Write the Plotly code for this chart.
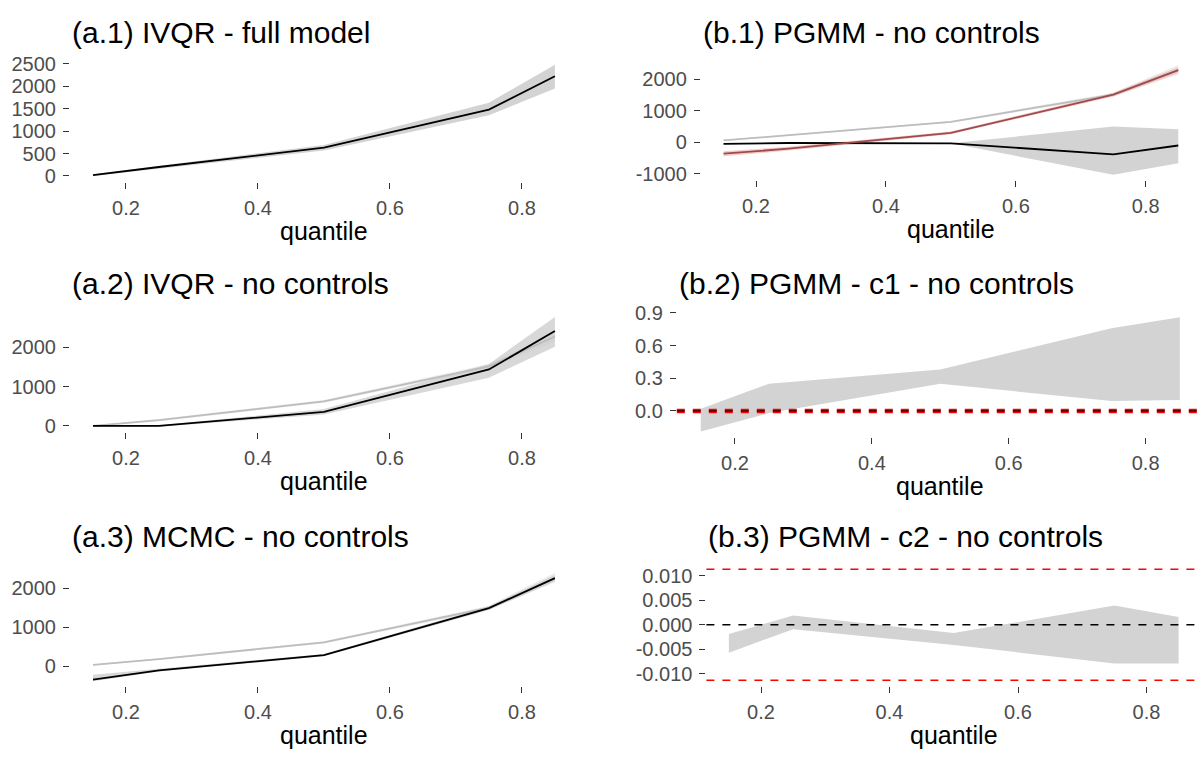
import plotly.graph_objects as go

W, H = 1204, 759

# ---------------- data ----------------
quantiles = [0.15, 0.25, 0.5, 0.75, 0.85]

# (a.1) IVQR - full model
a1_est = [20, 200, 630, 1480, 2220]
a1_lo = [0, 170, 570, 1350, 1950]
a1_hi = [40, 230, 690, 1630, 2480]

# (a.2) IVQR - no controls
a2_ref = [0, 150, 625, 1520, 2280]
a2_ref_lo = [-10, 120, 590, 1460, 2150]
a2_ref_hi = [10, 180, 660, 1580, 2400]
a2_est = [0, 0, 360, 1440, 2420]
a2_lo = [-20, -20, 290, 1230, 2020]
a2_hi = [20, 20, 430, 1580, 2780]

# (a.3) MCMC - no controls
a3_ref = [30, 180, 610, 1500, 2250]
a3_ref_lo = [10, 160, 580, 1450, 2150]
a3_ref_hi = [50, 200, 640, 1550, 2400]
a3_est = [-350, -110, 280, 1490, 2260]
a3_lo = [-390, -140, 250, 1440, 2180]
a3_hi = [-220, -70, 310, 1540, 2340]

# (b.1) PGMM - no controls
b1_ref = [60, 230, 650, 1510, 2290]
b1_ref_lo = [40, 210, 620, 1450, 2150]
b1_ref_hi = [80, 250, 680, 1570, 2450]
b1_red = [-360, -200, 300, 1510, 2290]
b1_red_lo = [-440, -260, 260, 1450, 2200]
b1_red_hi = [-280, -140, 340, 1570, 2380]
b1_black = [-50, -20, -30, -380, -100]
b1_black_lo = [-60, -30, -30, -1030, -660]
b1_black_hi = [-40, -10, -30, 500, 415]

# (b.2) PGMM - c1 - no controls
b2_lo = [-0.19, -0.02, 0.25, 0.09, 0.10]
b2_hi = [0.02, 0.25, 0.38, 0.76, 0.86]
b2_ref = 0.0

# (b.3) PGMM - c2 - no controls
b3_lo = [-0.0057, -0.0009, -0.0041, -0.0079, -0.0079]
b3_hi = [-0.0019, 0.0019, -0.0017, 0.0039, 0.0016]
b3_ref = 0.0
b3_bounds = [-0.0113, 0.0113]

x_ticks = [0.2, 0.4, 0.6, 0.8]
x_ticktext = ["0.2", "0.4", "0.6", "0.8"]

titles = ["(a.1) IVQR - full model", "(a.2) IVQR - no controls", "(a.3) MCMC - no controls",
          "(b.1) PGMM - no controls", "(b.2) PGMM - c1 - no controls", "(b.3) PGMM - c2 - no controls"]

# ---------------- layout (pixel geometry) ----------------
# name: (left, right, top, bottom, yrange, yticks, yticktext, title_y)
panels = {
    "a1": (69.9, 578, 49, 175, [-124, 2627], [0, 500, 1000, 1500, 2000, 2500],
           ["0", "500", "1000", "1500", "2000", "2500"], 23),
    "a2": (69.9, 578, 306.7, 430, [-142, 2940], [0, 1000, 2000], ["0", "1000", "2000"], 279),
    "a3": (69.9, 578, 570.6, 689.8, [-516, 2486], [0, 1000, 2000], ["0", "1000", "2000"], 537),
    "b1": (700.8, 1201, 50.5, 173.8, [-1204, 2624], [-1000, 0, 1000, 2000],
           ["-1000", "0", "1000", "2000"], 23),
    "b2": (676.8, 1203.8, 307.7, 435.9, [-0.2425, 0.9125], [0, 0.3, 0.6, 0.9],
           ["0.0", "0.3", "0.6", "0.9"], 279),
    "b3": (706.4, 1201.1, 565, 689.3, [-0.0124, 0.0124], [-0.01, -0.005, 0, 0.005, 0.01],
           ["-0.010", "-0.005", "0.000", "0.005", "0.010"], 537),
}
order = ["a1", "a2", "a3", "b1", "b2", "b3"]

FONT = "Liberation Sans, Arial, sans-serif"
TICKCOL = "#333333"
LABCOL = "#4D4D4D"
RIB = "#D3D3D3"
RIB_LIGHT = "rgba(225,225,225,0.6)"
REFLINE = "#BDBDBD"

fig = go.Figure()
layout = dict(
    width=W, height=H, margin=dict(l=0, r=0, t=0, b=0),
    paper_bgcolor="white", plot_bgcolor="white", showlegend=False,
    font=dict(family=FONT),
)
annotations = []
shapes = []

def px_x(p):
    return p / W

def px_y(p):
    return 1 - p / H

for i, key in enumerate(order):
    left, right, top, bottom, yr, yt, ytt, ty = panels[key]
    n = "" if i == 0 else str(i + 1)
    xa, ya = "xaxis" + n, "yaxis" + n
    layout[xa] = dict(domain=[px_x(left), px_x(right)], range=[0.115, 0.885], anchor="y" + n,
                      showgrid=False, zeroline=False, showline=False,
                      ticks="outside", ticklen=6, tickwidth=1.3, tickcolor=TICKCOL,
                      tickvals=x_ticks, ticktext=x_ticktext,
                      tickfont=dict(size=20, color=LABCOL, family=FONT), ticklabelstandoff=2)
    layout[ya] = dict(domain=[px_y(bottom), px_y(top)], range=yr, anchor="x" + n,
                      showgrid=False, zeroline=False, showline=False,
                      ticks="outside", ticklen=6, tickwidth=1.3, tickcolor=TICKCOL,
                      tickvals=yt, ticktext=ytt,
                      tickfont=dict(size=20, color=LABCOL, family=FONT), ticklabelstandoff=3)
    annotations.append(dict(text=titles[i], x=px_x(left), y=px_y(ty), xref="paper", yref="paper",
                            xanchor="left", yanchor="middle", showarrow=False,
                            font=dict(size=30, color="black", family=FONT)))
    annotations.append(dict(text="quantile", x=px_x((left + right) / 2), y=px_y(bottom + 50),
                            xref="paper", yref="paper", xanchor="center", yanchor="middle",
                            showarrow=False, font=dict(size=25, color="black", family=FONT)))

def ribbon(lo, hi, color, k):
    fig.add_trace(go.Scatter(x=quantiles + quantiles[::-1], y=hi + lo[::-1], fill="toself",
                             fillcolor=color, line=dict(width=0), mode="lines",
                             hoverinfo="skip", xaxis="x" + k, yaxis="y" + k))

def line(y, color, width, k):
    fig.add_trace(go.Scatter(x=quantiles, y=y, mode="lines", line=dict(color=color, width=width),
                             xaxis="x" + k, yaxis="y" + k))

# a.1
ribbon(a1_lo, a1_hi, RIB, "")
line(a1_est, "black", 1.8, "")
# a.2
ribbon(a2_ref_lo, a2_ref_hi, RIB_LIGHT, "2")
ribbon(a2_lo, a2_hi, "rgba(200,200,200,0.7)", "2")
line(a2_ref, REFLINE, 1.8, "2")
line(a2_est, "black", 1.8, "2")
# a.3
ribbon(a3_ref_lo, a3_ref_hi, RIB_LIGHT, "3")
ribbon(a3_lo, a3_hi, "rgba(200,200,200,0.7)", "3")
line(a3_ref, REFLINE, 1.8, "3")
line(a3_est, "black", 1.8, "3")
# b.1
ribbon(b1_black_lo, b1_black_hi, RIB, "4")
ribbon(b1_ref_lo, b1_ref_hi, RIB_LIGHT, "4")
ribbon(b1_red_lo, b1_red_hi, "rgba(240,170,170,0.6)", "4")
line(b1_ref, REFLINE, 1.8, "4")
line(b1_black, "black", 1.8, "4")
line(b1_red, "#9E4B4B", 1.8, "4")
# b.2
ribbon(b2_lo, b2_hi, RIB, "5")
shapes.append(dict(type="line", xref="x5 domain", yref="y5", x0=0, x1=1, y0=b2_ref, y1=b2_ref,
                   line=dict(color="#FF0000", width=4.5, dash="8px,8px")))
shapes.append(dict(type="line", xref="x5 domain", yref="y5", x0=0, x1=1, y0=b2_ref, y1=b2_ref,
                   line=dict(color="black", width=1.0, dash="8px,8px")))
# b.3
ribbon(b3_lo, b3_hi, RIB, "6")
shapes.append(dict(type="line", xref="x6 domain", yref="y6", x0=0, x1=1, y0=b3_ref, y1=b3_ref,
                   line=dict(color="black", width=1.5, dash="8px,8px")))
for b in b3_bounds:
    shapes.append(dict(type="line", xref="x6 domain", yref="y6", x0=0, x1=1, y0=b, y1=b,
                       line=dict(color="red", width=1.5, dash="8px,8px")))

layout["annotations"] = annotations
layout["shapes"] = shapes
fig.update_layout(**layout)
fig.write_html("out.html")
